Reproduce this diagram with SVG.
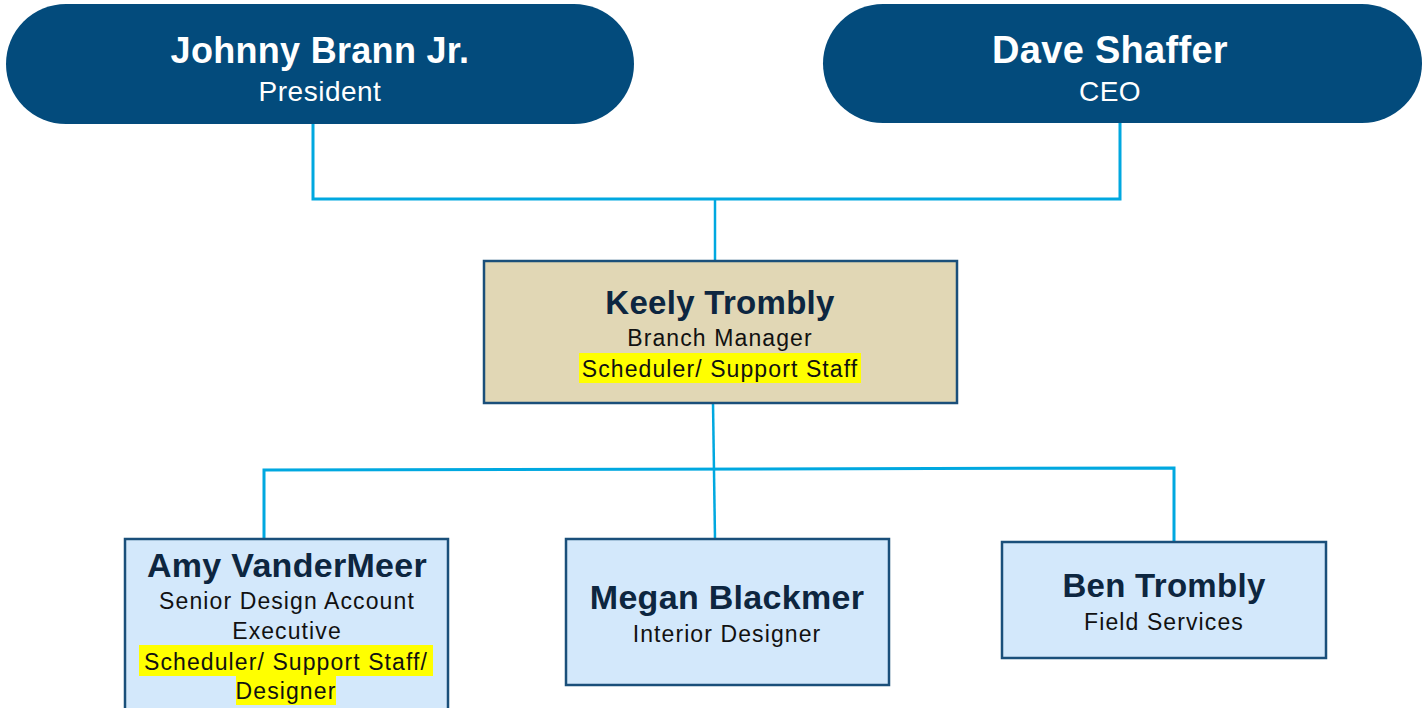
<svg xmlns="http://www.w3.org/2000/svg" width="1424" height="708" viewBox="0 0 1424 708">
<style>
.pill{fill:#034b7c}
.box{stroke:#1a4f7a;stroke-width:2.5}
.tan{fill:#e1d7b5}
.blue{fill:#d3e8fb}
.conn{fill:none;stroke:#00a8e0;stroke-width:3}
.conn2{fill:none;stroke:#00a8e0;stroke-width:2.5}
.hl{fill:#ffff00}
text{font-family:"Liberation Sans",Arial,sans-serif;text-anchor:middle}
.pn{font-size:36px;font-weight:bold;fill:#ffffff;letter-spacing:0.3px}
.pt{font-size:28px;fill:#ffffff;letter-spacing:0.5px}
.nm{font-size:33px;font-weight:bold;fill:#0d2640;letter-spacing:0.3px}
.sb{font-size:23px;fill:#111111;letter-spacing:1.1px}
</style>
<rect width="1424" height="708" fill="#ffffff"/>
<g id="connectors">
<polyline class="conn" points="313,124 313,199 1120,199 1120,123"/>
<line class="conn2" x1="715" y1="200" x2="715" y2="261"/>
<line class="conn2" x1="713" y1="403" x2="715" y2="539"/>
<polyline class="conn" points="264,539 264,470 1174,468 1174,542"/>
</g>
<g id="johnny">
<rect class="pill" x="6" y="4" width="628" height="120" rx="60"/>
<text class="pn" x="320" y="63">Johnny Brann Jr.</text>
<text class="pt" x="320" y="101">President</text>
</g>
<g id="dave">
<rect class="pill" x="823" y="4" width="599" height="119" rx="60"/>
<text class="pn" x="1110" y="63" style="font-size:38px">Dave Shaffer</text>
<text class="pt" x="1110" y="101">CEO</text>
</g>
<g id="keely">
<rect class="box tan" x="484" y="261" width="473" height="142"/>
<text class="nm" x="720" y="314">Keely Trombly</text>
<text class="sb" x="720" y="346">Branch Manager</text>
<rect class="hl" x="579" y="353" width="282" height="30"/>
<text class="sb" x="720" y="377">Scheduler/ Support Staff</text>
</g>
<g id="amy">
<rect class="box blue" x="125" y="539" width="323" height="175"/>
<text class="nm" x="287" y="577" style="font-size:34px">Amy VanderMeer</text>
<text class="sb" x="287" y="609">Senior Design Account</text>
<text class="sb" x="287" y="639">Executive</text>
<rect class="hl" x="139" y="645" width="294" height="31"/>
<rect class="hl" x="236" y="676" width="100" height="29"/>
<text class="sb" x="286" y="670">Scheduler/ Support Staff/</text>
<text class="sb" x="286" y="699">Designer</text>
</g>
<g id="megan">
<rect class="box blue" x="566" y="539" width="323" height="146"/>
<text class="nm" x="727" y="609" style="font-size:34px">Megan Blackmer</text>
<text class="sb" x="727" y="642">Interior Designer</text>
</g>
<g id="ben">
<rect class="box blue" x="1002" y="542" width="324" height="116"/>
<text class="nm" x="1164" y="597">Ben Trombly</text>
<text class="sb" x="1164" y="630">Field Services</text>
</g>
</svg>
